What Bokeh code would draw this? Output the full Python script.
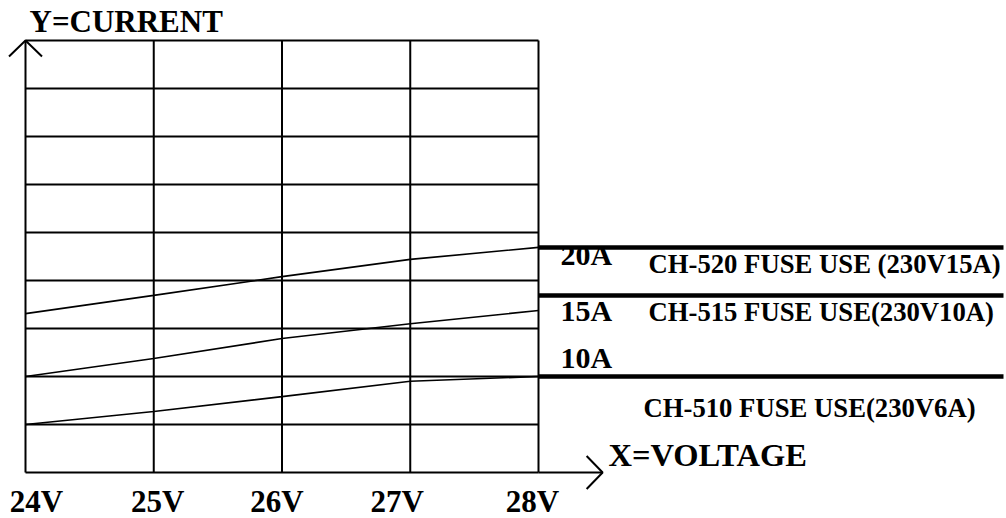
from bokeh.plotting import figure
from bokeh.models import Range1d
from bokeh.core.properties import value
from bokeh.embed import file_html
from bokeh.resources import INLINE

# ---------------- data ----------------
volts = [24, 25, 26, 27, 28]
volt_labels = ["24V", "25V", "26V", "27V", "28V"]
grid_rows = [0, 1, 2, 3, 4, 5, 6, 7, 8, 9]          # current axis in grid divisions
ch520 = [3.31, 3.69, 4.08, 4.44, 4.69]
ch515 = [2.00, 2.375, 2.79, 3.10, 3.375]
ch510 = [1.00, 1.27, 1.58, 1.90, 2.00]
fuse_levels = [4.69, 3.69, 2.00]
amp_labels = ["20A", "15A", "10A"]
fuse_notes = ["CH-520 FUSE USE (230V15A)", "CH-515 FUSE USE(230V10A)", "CH-510 FUSE USE(230V6A)"]
x_title = "X=VOLTAGE"
y_title = "Y=CURRENT"

# ---------------- layout ----------------
W, H = 1006, 518
PX_PER_V = 128.25
PX_PER_ROW = 48.0
ORIGIN = (25, 472)          # picture pixel of (24 V, row 0)
x0 = volts[0] - ORIGIN[0] / PX_PER_V
x1 = x0 + W / PX_PER_V
y1 = ORIGIN[1] / PX_PER_ROW
y0 = y1 - H / PX_PER_ROW
BASE_FIX = 0.39             # renderer baseline correction, in em


def dx(px):
    return x0 + px / PX_PER_V


def dy(py, size=0.0):
    return y1 - (py - BASE_FIX * size) / PX_PER_ROW


FONT = value("Liberation Serif")

p = figure(width=W, height=H, x_range=Range1d(x0, x1), y_range=Range1d(y0, y1),
           output_backend="svg", toolbar_location=None, tools="", min_border=0,
           x_axis_location=None, y_axis_location=None, outline_line_color=None)
p.grid.grid_line_color = None
p.background_fill_color = "white"
p.border_fill_color = "white"

vmin, vmax = volts[0], volts[-1]
rmin, rmax = grid_rows[0], grid_rows[-1]

# grid
p.segment(x0=volts, y0=[rmin] * len(volts), x1=volts, y1=[rmax] * len(volts),
          line_color="black", line_width=2)
p.segment(x0=[vmin] * len(grid_rows), y0=grid_rows, x1=[vmax] * len(grid_rows), y1=grid_rows,
          line_color="black", line_width=2)

# curves
for s in (ch520, ch515, ch510):
    p.line(volts, s, line_color="black", line_width=1.6)

# fuse level bars
bar_end = dx(1003)
p.segment(x0=[vmax] * 3, y0=fuse_levels, x1=[bar_end] * 3, y1=fuse_levels,
          line_color="black", line_width=4.5)

# axis arrows
x_arrow_end = vmax + 0.5
hx, hy = 16.5 / PX_PER_V, 16.0 / PX_PER_ROW
p.multi_line(
    xs=[[vmin - hx, vmin, vmin + hx],
        [vmax, x_arrow_end],
        [x_arrow_end - 16.0 / PX_PER_V, x_arrow_end, x_arrow_end - 16.0 / PX_PER_V]],
    ys=[[rmax - hy, rmax, rmax - hy],
        [rmin, rmin],
        [rmin + 16.5 / PX_PER_ROW, rmin, rmin - 16.5 / PX_PER_ROW]],
    line_color="black", line_width=2)

# tick labels
p.text(x=volts, y=[dy(513, 31)] * len(volts), text=volt_labels,
       x_offset=[11, 4, -5, -13, -6],
       text_font=FONT, text_font_style="bold", text_font_size="31px",
       text_align="center", text_baseline="alphabetic", text_color="black")

# titles
p.text(x=[dx(29)], y=[dy(33, 31)], text=[y_title], text_font=FONT, text_font_style="bold",
       text_font_size="31px", text_align="left", text_baseline="alphabetic", text_color="black")
p.text(x=[dx(608)], y=[dy(467, 32.5)], text=[x_title], text_font=FONT, text_font_style="bold",
       text_font_size="32.5px", text_align="left", text_baseline="alphabetic", text_color="black")

# amp labels
p.text(x=[dx(560)] * 3, y=[dy(266, 30), dy(322, 30), dy(369, 30)], text=amp_labels,
       text_font=FONT, text_font_style="bold", text_font_size="30px",
       text_align="left", text_baseline="alphabetic", text_color="black")

# fuse notes
p.text(x=[dx(648), dx(648), dx(643)], y=[dy(274, 26.7), dy(322, 26.7), dy(418, 26.7)],
       text=fuse_notes, text_font=FONT, text_font_style="bold", text_font_size="26.7px",
       text_align="left", text_baseline="alphabetic", text_color="black")

open("out.html", "w").write(file_html(p, INLINE))
